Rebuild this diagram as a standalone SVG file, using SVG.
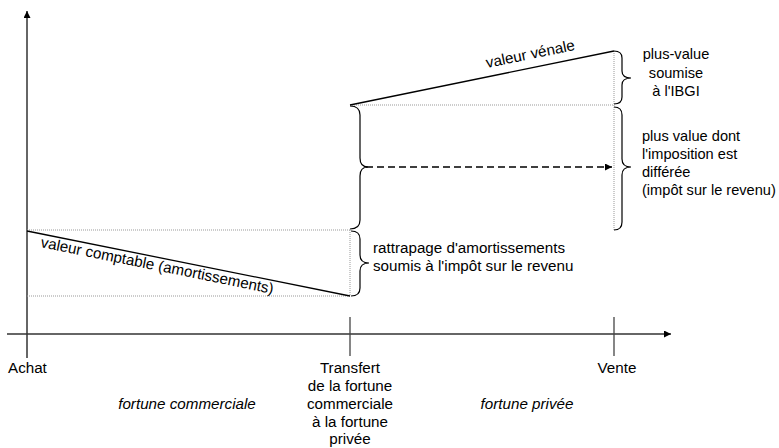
<svg xmlns="http://www.w3.org/2000/svg" width="779" height="448" viewBox="0 0 779 448">
<defs>
<marker id="ah" viewBox="0 0 10 10" refX="10" refY="5" markerWidth="8" markerHeight="7" markerUnits="userSpaceOnUse" orient="auto">
<path d="M0,0 L10,5 L0,10 z" fill="#000"/>
</marker>
<style>
text{font-family:"Liberation Sans",Arial,sans-serif;font-size:15.2px;fill:#000}
.sm{font-size:14.6px}
.it{font-style:italic}
.mid{text-anchor:middle}
.axis{stroke:#333;stroke-width:1.5;fill:none}
.tick{stroke:#444;stroke-width:1.3;fill:none}
.dot{stroke:#999;stroke-width:1;stroke-dasharray:1 1;fill:none}
.val{stroke:#000;stroke-width:1.3;fill:none}
.brace{stroke:#000;stroke-width:1.2;fill:none}
.dash{stroke:#000;stroke-width:1.3;stroke-dasharray:7 4;fill:none}
</style>
</defs>
<rect width="779" height="448" fill="#fff"/>
<g id="axes">
<line class="axis" x1="27" y1="358" x2="27" y2="11" marker-end="url(#ah)"/>
<line class="axis" x1="7" y1="334" x2="671" y2="334" marker-end="url(#ah)"/>
<line class="tick" x1="350" y1="317" x2="350" y2="356"/>
<line class="tick" x1="614" y1="317" x2="614" y2="356"/>
</g>
<g id="guides">
<line class="dot" x1="27" y1="230" x2="350" y2="230"/>
<line class="dot" x1="27" y1="296" x2="350" y2="296"/>
<line class="dot" x1="350" y1="230" x2="350" y2="296"/>
<line class="dot" x1="350" y1="105" x2="614" y2="105"/>
<line class="dot" x1="614" y1="51" x2="614" y2="230"/>
</g>
<g id="connectors">
<line class="val" x1="27" y1="231" x2="350" y2="296"/>
<line class="val" x1="350" y1="105" x2="614" y2="51"/>
<line class="dash" x1="366" y1="167" x2="612" y2="167" marker-end="url(#ah)"/>
</g>
<g id="braces">
<path class="brace" d="M350,106 C357,106 360,109 360,115 L360,158 C360,164 362,167 368,167 C362,167 360,170 360,176 L360,220 C360,226 357,229 350,229"/>
<path class="brace" d="M351,231 C357,231 360,233 360,239 L360,255 C360,260 362,263 369,263 C362,263 360,266 360,271 L360,288 C360,294 357,296 351,296"/>
<path class="brace" d="M614,51 C619,51 622,53 622,58 L622,71 C622,76 625,78 631,78 C625,78 622,80 622,85 L622,97 C622,102 619,104 614,104"/>
<path class="brace" d="M614,107 C619,107 622,109 622,115 L622,159 C622,164 625,167 631,167 C625,167 622,170 622,175 L622,222 C622,227 619,230 614,230"/>
</g>
<g id="valeur-comptable">
<text transform="translate(40,247) rotate(11.4)">valeur comptable (amortissements)</text>
</g>
<g id="valeur-venale">
<text transform="translate(487,68) rotate(-11.56)">valeur vénale</text>
</g>
<g id="rattrapage">
<text x="373" y="253">rattrapage d'amortissements</text>
<text x="373" y="271">soumis à l'impôt sur le revenu</text>
</g>
<g id="plus-value-ibgi">
<text class="mid sm" x="676" y="59">plus-value</text>
<text class="mid sm" x="676" y="77.5">soumise</text>
<text class="mid sm" x="676" y="96">à l'IBGI</text>
</g>
<g id="plus-value-differee">
<text class="sm" x="642" y="141">plus value dont</text>
<text class="sm" x="642" y="159">l'imposition est</text>
<text class="sm" x="642" y="177">différée</text>
<text class="sm" x="642" y="195">(impôt sur le revenu)</text>
</g>
<g id="achat"><text x="8" y="373">Achat</text></g>
<g id="transfert">
<text class="mid" x="350" y="373">Transfert</text>
<text class="mid" x="350" y="391">de la fortune</text>
<text class="mid" x="350" y="409">commerciale</text>
<text class="mid" x="350" y="427">à la fortune</text>
<text class="mid" x="350" y="444">privée</text>
</g>
<g id="vente"><text class="mid" x="617" y="373">Vente</text></g>
<g id="periodes">
<text class="it mid" x="187" y="409">fortune commerciale</text>
<text class="it mid" x="527" y="409">fortune privée</text>
</g>
</svg>
